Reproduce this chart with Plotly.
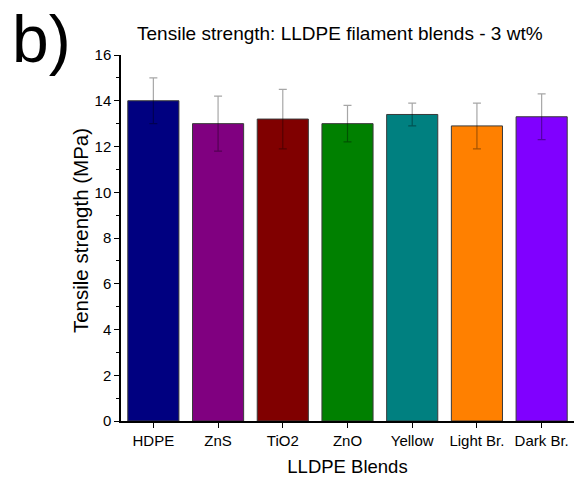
import plotly.graph_objects as go

categories = ["HDPE", "ZnS", "TiO2", "ZnO", "Yellow", "Light Br.", "Dark Br."]
strength = [14.0, 13.0, 13.2, 13.0, 13.4, 12.9, 13.3]
errors = [1.0, 1.2, 1.3, 0.8, 0.5, 1.0, 1.0]
colors = ["#000080", "#800080", "#800000", "#008000", "#008080", "#FF8000", "#8000FF"]

font = "Liberation Sans, Arial, sans-serif"

fig = go.Figure(go.Bar(
    x=categories, y=strength,
    marker=dict(color=colors, line=dict(color="#3a3a3a", width=1)),
    width=0.79,
    error_y=dict(type="data", array=errors, visible=True,
                 color="rgba(0,0,0,0.35)", thickness=1.2, width=4),
))

fig.update_layout(
    width=574, height=482,
    margin=dict(l=121, r=0, t=55, b=61),
    paper_bgcolor="white", plot_bgcolor="white",
    font=dict(family=font, color="black", size=15),
    showlegend=False,
    title=dict(text="Tensile strength: LLDPE filament blends - 3 wt%",
               x=0.592, xanchor="center", y=0.931, yanchor="middle",
               font=dict(size=19, family=font)),
    xaxis=dict(
        title=dict(text="LLDPE Blends", font=dict(size=18.5), standoff=12),
        range=[-0.5, 6.5],
        showline=True, linecolor="black", linewidth=1.5,
        ticks="outside", ticklen=5, tickcolor="black", tickwidth=1.2,
        minor=dict(ticks="outside", ticklen=3, tickcolor="black", tickwidth=1, dtick=1, tick0=-0.5),
        showgrid=False, zeroline=False,
        tickfont=dict(size=15),
    ),
    yaxis=dict(
        range=[0, 16], dtick=2, tick0=0,
        showline=True, linecolor="black", linewidth=1.5,
        ticks="outside", ticklen=5, tickcolor="black", tickwidth=1.2,
        minor=dict(ticks="outside", ticklen=3, tickcolor="black", tickwidth=1, dtick=1),
        showgrid=False, zeroline=False,
        tickfont=dict(size=15),
    ),
    annotations=[
        dict(text="b)", x=-0.245, y=1.15, xref="paper", yref="paper",
             xanchor="left", yanchor="top", showarrow=False,
             font=dict(size=66, family=font, color="black")),
        dict(text="Tensile strength (MPa)", x=-0.0905, y=0.519, xref="paper", yref="paper",
             xanchor="center", yanchor="middle", textangle=-90, showarrow=False,
             font=dict(size=20.5, family=font, color="black")),
    ],
)

fig.write_html("out.html")
